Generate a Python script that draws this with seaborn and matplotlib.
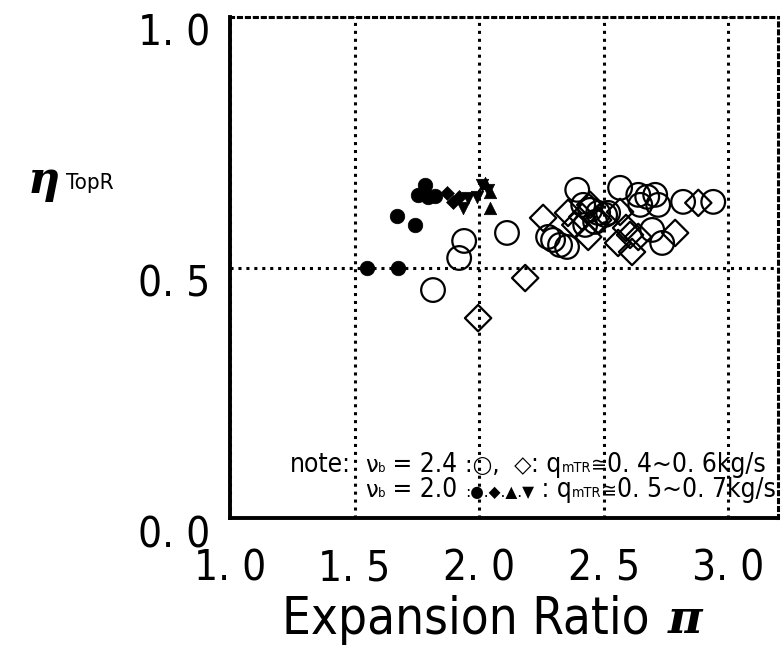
import numpy as np
import pandas as pd
import seaborn as sns
import matplotlib
matplotlib.use("Agg")
import matplotlib.pyplot as plt
from matplotlib import font_manager as fm
from matplotlib.offsetbox import TextArea, HPacker, AnnotationBbox
from matplotlib.transforms import ScaledTranslation

# ---------------- data ----------------
# nu_b = 2.4, open circles
oc_x = [1.815, 1.920, 1.940, 2.112, 2.277, 2.297, 2.325, 2.353, 2.394, 2.418,
        2.446, 2.478, 2.506, 2.466, 2.426, 2.518, 2.566, 2.639, 2.675, 2.707,
        2.719, 2.647, 2.819, 2.940, 2.695, 2.735]
oc_y = [0.455, 0.519, 0.553, 0.569, 0.561, 0.555, 0.545, 0.541, 0.655, 0.625,
        0.615, 0.609, 0.605, 0.591, 0.585, 0.609, 0.659, 0.645, 0.641, 0.645,
        0.625, 0.625, 0.631, 0.631, 0.575, 0.549]
# nu_b = 2.4, open diamonds
od_x = [1.996, 2.185, 2.257, 2.357, 2.386, 2.414, 2.438, 2.478, 2.446, 2.566,
        2.558, 2.606, 2.614, 2.639, 2.590, 2.787, 2.880]
od_y = [0.399, 0.479, 0.599, 0.609, 0.585, 0.601, 0.561, 0.595, 0.625, 0.611,
        0.549, 0.565, 0.531, 0.561, 0.579, 0.569, 0.629]
# nu_b = 2.0, filled markers
fc_x = [1.550, 1.675, 1.671, 1.743, 1.783, 1.755, 1.795, 1.823]
fc_y = [0.499, 0.499, 0.603, 0.585, 0.665, 0.645, 0.641, 0.643]
fd_x = [1.871, 1.896, 1.920]
fd_y = [0.649, 0.631, 0.641]
fv_x = [1.936, 1.956, 1.992, 2.012, 2.036]
fv_y = [0.619, 0.639, 0.641, 0.665, 0.655]
fu_x = [2.044, 2.044, 2.024]
fu_y = [0.619, 0.651, 0.669]

x_ticks = [1.0, 1.5, 2.0, 2.5, 3.0]
x_ticklabels = ["1. 0", "1. 5", "2. 0", "2. 5", "3. 0"]
y_ticks = [0.0, 0.5, 1.0]
y_ticklabels = ["0. 0", "0. 5", "1. 0"]

# ---------------- fonts ----------------
sns.set_theme(style="white")


def pick_narrow():
    order = {"ultra-condensed": 0, "extra-condensed": 1, "condensed": 2,
             "semi-condensed": 3}
    best = None
    for f in fm.fontManager.ttflist:
        st = f.stretch if isinstance(f.stretch, str) else ""
        rank = None
        if st in order:
            rank = order[st]
        elif "Narrow" in f.name or "Condensed" in f.name:
            rank = 2
        if rank is None or f.style != "normal":
            continue
        w = f.weight if isinstance(f.weight, int) else 400
        if w != 400:
            continue
        if best is None or rank < best[0]:
            best = (rank, f)
    return None if best is None else best[1].fname


NARROW_FILE = pick_narrow()
plt.rcParams["font.family"] = ["DejaVu Sans"]
for k in ["text.color", "axes.labelcolor", "xtick.color", "ytick.color"]:
    plt.rcParams[k] = "black"


def fp(size):
    if NARROW_FILE:
        p = fm.FontProperties(fname=NARROW_FILE)
    else:
        p = fm.FontProperties(family="DejaVu Sans")
    p.set_size(size)
    return p


def sym(size):
    p = fm.FontProperties(family="DejaVu Sans")
    p.set_size(size)
    return p


fig = plt.figure(figsize=(7.84, 6.45), dpi=100)
ax = fig.add_axes([230 / 784, 1 - 518 / 645, 548 / 784, 501 / 645])

groups = [
    (oc_x, oc_y, "o", 290, "none", 1.6),
    (od_x, od_y, "D", 180, "none", 1.6),
    (fc_x, fc_y, "o", 110, "black", 0.5),
    (fd_x, fd_y, "D", 50, "black", 0.5),
    (fv_x, fv_y, "v", 80, "black", 0.5),
    (fu_x, fu_y, "^", 80, "black", 0.5),
]
for gx, gy, mk, sz, fc, lw in groups:
    df = pd.DataFrame({"x": gx, "y": gy})
    sns.scatterplot(data=df, x="x", y="y", marker=mk, s=sz, facecolor=fc,
                    edgecolor="black", linewidth=lw, ax=ax, legend=False,
                    zorder=3, clip_on=False)

ax.set_xlim(1.0, 3.2)
ax.set_ylim(0.0, 1.0)
ax.set_xticks(x_ticks)
ax.set_xticklabels(x_ticklabels)
ax.set_yticks(y_ticks)
ax.set_yticklabels(y_ticklabels)
ax.tick_params(axis="both", length=0, colors="black")
ax.tick_params(axis="x", pad=21)
ax.tick_params(axis="y", pad=14)
for lab in ax.get_yticklabels():
    lab.set_transform(lab.get_transform() + ScaledTranslation(0, -9 / 72, fig.dpi_scale_trans))

ax.grid(True, color="black", linestyle=(0, (1, 1.6)), linewidth=2.2, zorder=1)
ax.set_axisbelow(True)
for side in ["left", "bottom"]:
    ax.spines[side].set_linewidth(2.8)
    ax.spines[side].set_color("black")
    ax.spines[side].set_zorder(4)
for side in ["top", "right"]:
    ax.spines[side].set_linewidth(2.2)
    ax.spines[side].set_linestyle((0, (1, 1.6)))
    ax.spines[side].set_color("black")

ax.set_ylabel("")
ax.set_xlabel("Expansion Ratio", ha="left", va="center")
ax.xaxis.set_label_coords((282 - 230) / 548, -(620 - 518) / 501)

eta = fig.text(28 / 784, 1 - 180 / 645, "η", family="DejaVu Serif", fontsize=32,
               fontweight="bold", fontstyle="italic", ha="left", va="center")
topr = fig.text(66 / 784, 1 - 183 / 645, "TopR", ha="left", va="center")
note = ax.text(1.241, 0.106, "note:", ha="left", va="center")

renderer = fig.canvas.get_renderer()


def fit_size(text_artist, target_w, target_h, h_chars_ratio=0.72):
    w = text_artist.get_window_extent(renderer).width
    s_w = 20 * target_w / w
    s_h = target_h / h_chars_ratio * 72 / 100
    return min(s_w, s_h)


probe = fig.text(0, 0, "1. 0", fontproperties=fp(20))
tick_size = fit_size(probe, 72, 40)
probe.remove()
for lab in ax.get_xticklabels() + ax.get_yticklabels():
    lab.set_fontproperties(fp(tick_size))

probe = fig.text(0, 0, "Expansion Ratio", fontproperties=fp(20))
xl_size = fit_size(probe, 368, 38)
probe.remove()
ax.xaxis.label.set_fontproperties(fp(xl_size))

topr.set_fontproperties(fp(min(16, xl_size * 0.55)))
note.set_fontproperties(fp(20))

fig.canvas.draw()
xl_ext = ax.xaxis.label.get_window_extent(renderer)
fig.text((xl_ext.x1 + 18) / 784, 1 - 620 / 645, "π", family="DejaVu Serif",
         fontsize=34, fontweight="bold", fontstyle="italic", ha="left", va="center")


def note_line(pieces, y, scale):
    boxes = []
    for t, fs, kind in pieces:
        prop = sym(fs * scale) if kind == "s" else fp(fs * scale)
        boxes.append(TextArea(t, textprops=dict(fontproperties=prop, color="black")))
    pack = HPacker(children=boxes, align="baseline", pad=0, sep=0)
    ab = AnnotationBbox(pack, (1.542, y), xycoords="data", box_alignment=(0, 0.5),
                        frameon=False, pad=0)
    ax.add_artist(ab)
    return ab


line1 = [("ν", 19, "s"), ("b", 11, "n"), (" = 2.4 ", 22, "n"), (":○,  ◇", 19, "s"),
         (": q", 22, "n"), ("mTR", 12, "n"), ("≅", 16, "s"), ("0. 4~0. 6kg/s", 22, "n")]
line2 = [("ν", 19, "s"), ("b", 11, "n"), (" = 2.0 ", 22, "n"), (":●.◆.▲.▼", 13, "s"),
         (" : q", 22, "n"), ("mTR", 12, "n"), ("≅", 16, "s"), ("0. 5~0. 7kg/s", 22, "n")]

a = note_line(line1, 0.106, 1.0)
b = note_line(line2, 0.056, 1.0)
fig.canvas.draw()
wmax = max(a.get_window_extent(renderer).width, b.get_window_extent(renderer).width)
a.remove()
b.remove()
scale = min(1.2, 412.0 / wmax)
note_line(line1, 0.106, scale)
note_line(line2, 0.056, scale)
note.set_fontsize(22 * scale)

fig.savefig("out.png", dpi=100)
